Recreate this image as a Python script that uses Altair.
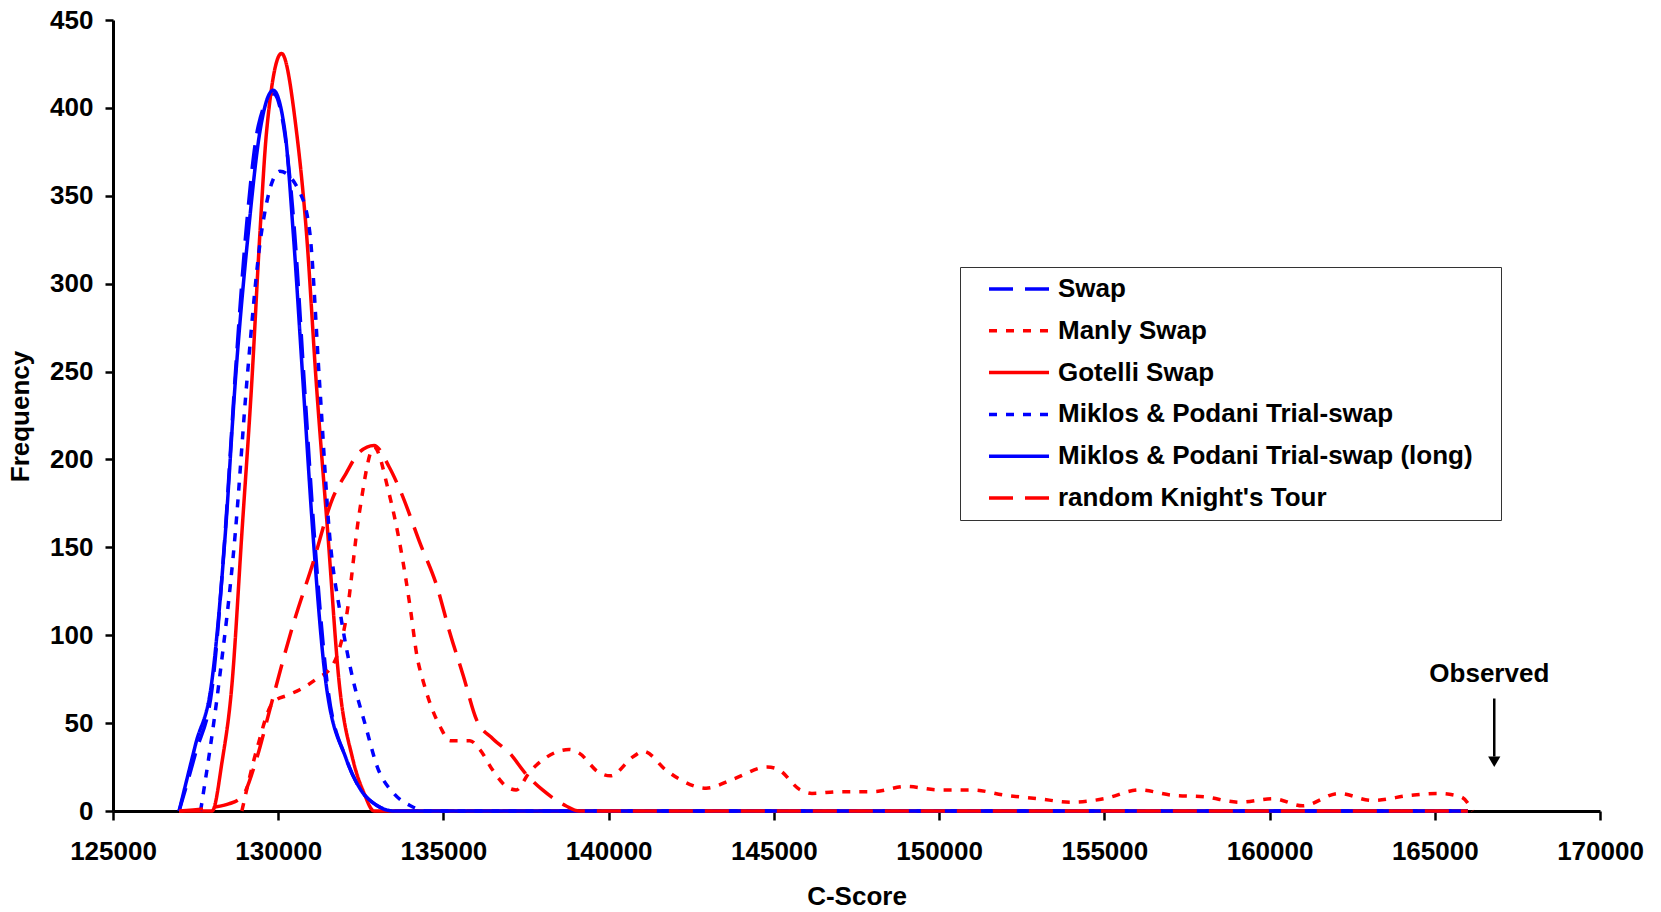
import altair as alt
import pandas as pd

# ---------------- data ----------------
SERIES = ["Swap", "Manly Swap", "Gotelli Swap", "Miklos & Podani Trial-swap",
          "Miklos & Podani Trial-swap (long)", "random Knight's Tour"]
COLORS = ["#0000FF", "#FF0000", "#FF0000", "#0000FF", "#0000FF", "#FF0000"]
DASHES = [[24, 12], [8, 9], [1, 0], [8, 9], [1, 0], [24, 12]]

swap_x = [127000, 127500, 128000, 128400, 128700, 129050, 129400, 129850, 130200, 130500,
          130800, 131100, 131500, 132050, 132500, 133000, 133500, 134000, 140000, 150000,
          160000, 166000]
swap_y = [0, 33, 70, 160, 248, 335, 390, 408, 385, 328, 240, 155, 70, 30, 12, 3, 0, 0, 0, 0, 0, 0]

manly_x = [128900, 129350, 129850, 130300, 130650, 131150, 131650, 132050, 132450, 132900,
           133350, 133700, 134000, 134200, 134400, 134600, 134900, 135200, 135800, 136100,
           136500, 136900, 137200, 137600, 138000, 138800, 139100, 139700, 140050, 140750,
           141050, 141750, 142150, 142950, 143750, 144800, 145100, 145800, 146150, 147000,
           148000, 149000, 150000, 151000, 152000, 153000, 154000, 155000, 156050, 157050,
           158050, 159100, 160100, 161000, 162100, 163100, 164300, 165100, 165800, 166150]
manly_y = [0, 35, 62, 66, 69, 75, 83, 109, 169, 207,
           181, 150, 115, 88, 73, 61, 48, 40, 40, 35,
           23, 14, 12, 22, 29, 35, 33, 22, 20, 31,
           34, 23, 18, 13, 18, 25, 24, 12, 10, 11,
           11, 14, 12, 12, 9, 7, 5, 7, 12, 9,
           8, 5, 7, 3, 10, 6, 9, 10, 8, 0]

gotelli_x = [127000, 128000, 128300, 128600, 128900, 129200, 129450, 129650, 130100, 130550,
             130850, 131150, 131500, 131850, 132250, 132600, 132900, 133500, 140000, 150000,
             160000, 166000]
gotelli_y = [0, 0, 28, 72, 158, 244, 330, 387, 431, 387, 330, 244, 158, 72, 30, 10, 0, 0, 0, 0, 0, 0]

mp_x = [127650, 128200, 128700, 129050, 129500, 130050, 130650, 130950, 131250, 131550,
        131900, 132200, 132650, 133000, 133500, 134000, 134500, 140000, 150000, 160000, 166000]
mp_y = [0, 72, 158, 244, 330, 364, 352, 330, 244, 158, 110, 80, 48, 25, 10, 3, 0, 0, 0, 0, 0]

mplong_x = [127000, 127500, 128000, 128400, 128700, 129100, 129450, 129850, 130200, 130450,
            130750, 131050, 131450, 132050, 132500, 133000, 133500, 134000, 140000, 150000,
            160000, 166000]
mplong_y = [0, 38, 75, 158, 244, 330, 387, 410, 387, 330, 244, 158, 72, 30, 12, 3, 0, 0, 0, 0, 0, 0]

knight_x = [127000, 128000, 128500, 128900, 129350, 129750, 130450, 131050, 131650, 132050,
            132450, 132900, 133350, 133700, 134300, 134800, 135200, 135600, 136000, 136500,
            137000, 137500, 138000, 138700, 139100, 140000, 150000, 160000, 166000]
knight_y = [0, 2, 4, 8, 30, 58, 106, 141, 178, 192,
            204, 208, 196, 182, 152, 128, 101, 77, 52, 41,
            33, 21, 12, 3, 0, 0, 0, 0, 0]

obs_x = [166800]
obs_text_x = [166650]
obs_text_y = [78]
obs_label = ["Observed"]
arrow_top = [64]
arrow_bottom = [31]
arrow_head = [28]

X_TICKS = list(range(125000, 170001, 5000))
Y_TICKS = list(range(0, 451, 50))

# ---------------- build table ----------------
xs = [swap_x, manly_x, gotelli_x, mp_x, mplong_x, knight_x]
ys = [swap_y, manly_y, gotelli_y, mp_y, mplong_y, knight_y]
rows = []
for i, (name, xl, yl) in enumerate(zip(SERIES, xs, ys)):
    for a, b in zip(xl, yl):
        rows.append({"series": name, "order": i, "x": a, "y": b})
df = pd.DataFrame(rows)

FONT = "Liberation Sans"

xscale = alt.Scale(domain=[125000, 170000], nice=False, zero=False)
yscale = alt.Scale(domain=[0, 450], nice=False)

legend = alt.Legend(
    title=None, orient="none", legendX=847, legendY=247, direction="vertical",
    strokeColor="#333333", fillColor="white", padding=9,
    symbolType="M-3,0H3", symbolSize=400, symbolStrokeWidth=3.5,
    symbolOffset=37, labelOffset=26, rowPadding=15.8,
    labelFont=FONT, labelFontSize=26, labelFontWeight="bold", labelColor="black",
    labelLimit=800, labelExpr="datum.label + '\u2800'",
)

lines = alt.Chart(df).mark_line(strokeWidth=3.5, interpolate="monotone").encode(
    x=alt.X("x:Q", scale=xscale, axis=alt.Axis(
        title="C-Score", values=X_TICKS, format="d", titleY=93, titleBaseline="alphabetic",
        labelPadding=18, tickSize=9)),
    y=alt.Y("y:Q", scale=yscale, axis=alt.Axis(
        title="Frequency", values=Y_TICKS, titleX=-85, titleY=396, titleBaseline="alphabetic",
        labelPadding=12, tickSize=8)),
    color=alt.Color("series:N", scale=alt.Scale(domain=SERIES, range=COLORS), legend=legend),
    strokeDash=alt.StrokeDash("series:N", scale=alt.Scale(domain=SERIES, range=DASHES), legend=legend),
    order=alt.Order("x:Q"),
    detail="order:O",
)

ann = pd.DataFrame({"x": obs_x, "tx": obs_text_x, "ty": obs_text_y, "label": obs_label,
                    "top": arrow_top, "bottom": arrow_bottom, "head": arrow_head})

text = alt.Chart(ann).mark_text(font=FONT, fontSize=26, fontWeight="bold", color="black",
                                align="center", baseline="middle").encode(
    x=alt.X("tx:Q", scale=xscale), y=alt.Y("ty:Q", scale=yscale), text="label:N")
rule = alt.Chart(ann).mark_rule(color="black", strokeWidth=2.5).encode(
    x=alt.X("x:Q", scale=xscale), y=alt.Y("top:Q", scale=yscale), y2="bottom:Q")
head = alt.Chart(ann).mark_point(shape="triangle-down", filled=True, color="black",
                                 size=150, opacity=1).encode(
    x=alt.X("x:Q", scale=xscale), y=alt.Y("head:Q", scale=yscale))

chart = alt.layer(lines, rule, head, text).properties(
    width=1487, height=791,
    padding={"left": 113, "top": 20, "right": 61, "bottom": 101},
    autosize=alt.AutoSizeParams(type="none"),
    background="white",
).configure_view(stroke=None).configure_axis(
    grid=False, domainColor="black", domainWidth=3, tickColor="black", tickWidth=2.5,
    labelFont=FONT, labelFontSize=26, labelFontWeight="bold", labelColor="black",
    titleFont=FONT, titleFontSize=26, titleFontWeight="bold", titleColor="black",
).configure_axisX(labelFlush=False)

chart.save("out.html", embed_options={"renderer": "svg", "actions": False})
